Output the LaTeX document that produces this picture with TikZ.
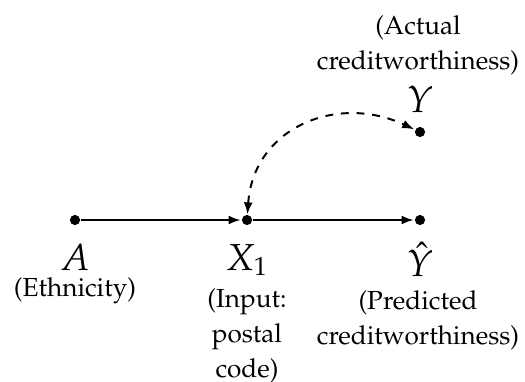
\documentclass[tikz,border=0pt]{standalone}
\usepackage[T1]{fontenc}
\usepackage{mathpazo}
\usepackage{tikz}
\usetikzlibrary{arrows.meta,positioning}
\tikzset{
  dot/.style={circle,fill=black,inner sep=0pt,minimum size=3.9pt},
  varlbl/.style={inner sep=0pt,anchor=base,font=\Large},
  desclbl/.style={inner sep=0pt,anchor=base,align=center,font={\fontsize{10}{13.4}\selectfont}},
  link/.style={line width=0.75pt,-{Latex[length=4.6pt,width=3.4pt]},shorten >=0.3pt}
}
\begin{document}
\begin{tikzpicture}[x=0.383pt,y=-0.383pt]
  \useasboundingbox (0,0) rectangle (525,381);
  % the four variables
  \node[dot] (a) at (75,220) {};
  \node[dot] (x) at (247,220) {};
  \node[dot] (yh) at (420,220) {};
  \node[dot] (y) at (420,132) {};
  % labels (base = last line)
  \node[varlbl] (la) at (75,270) {$A$};
  \node[desclbl] (ta) at (75,296) {(Ethnicity)};
  \node[varlbl] (lx) at (247,270) {$X_1$};
  \node[desclbl] (tx) at (247,377) {(Input:\\postal\\code)};
  \node[varlbl] (lyh) at (420,276) {$\hat{Y}$};
  \node[desclbl] (tyh) at (418,344) {(Predicted\\creditworthiness)};
  \node[varlbl] (ly) at (420,112) {$Y$};
  \node[desclbl] (ty) at (418,69) {(Actual\\creditworthiness)};
  % edges
  \draw[link] (a) -- (x);
  \draw[link] (x) -- (yh);
  \draw[link,dashed,{Latex[length=4.6pt,width=3.4pt]}-{Latex[length=4.6pt,width=3.4pt]}]
    (x) to[out=86,in=155,looseness=1.18] (y);
\end{tikzpicture}
\end{document}
